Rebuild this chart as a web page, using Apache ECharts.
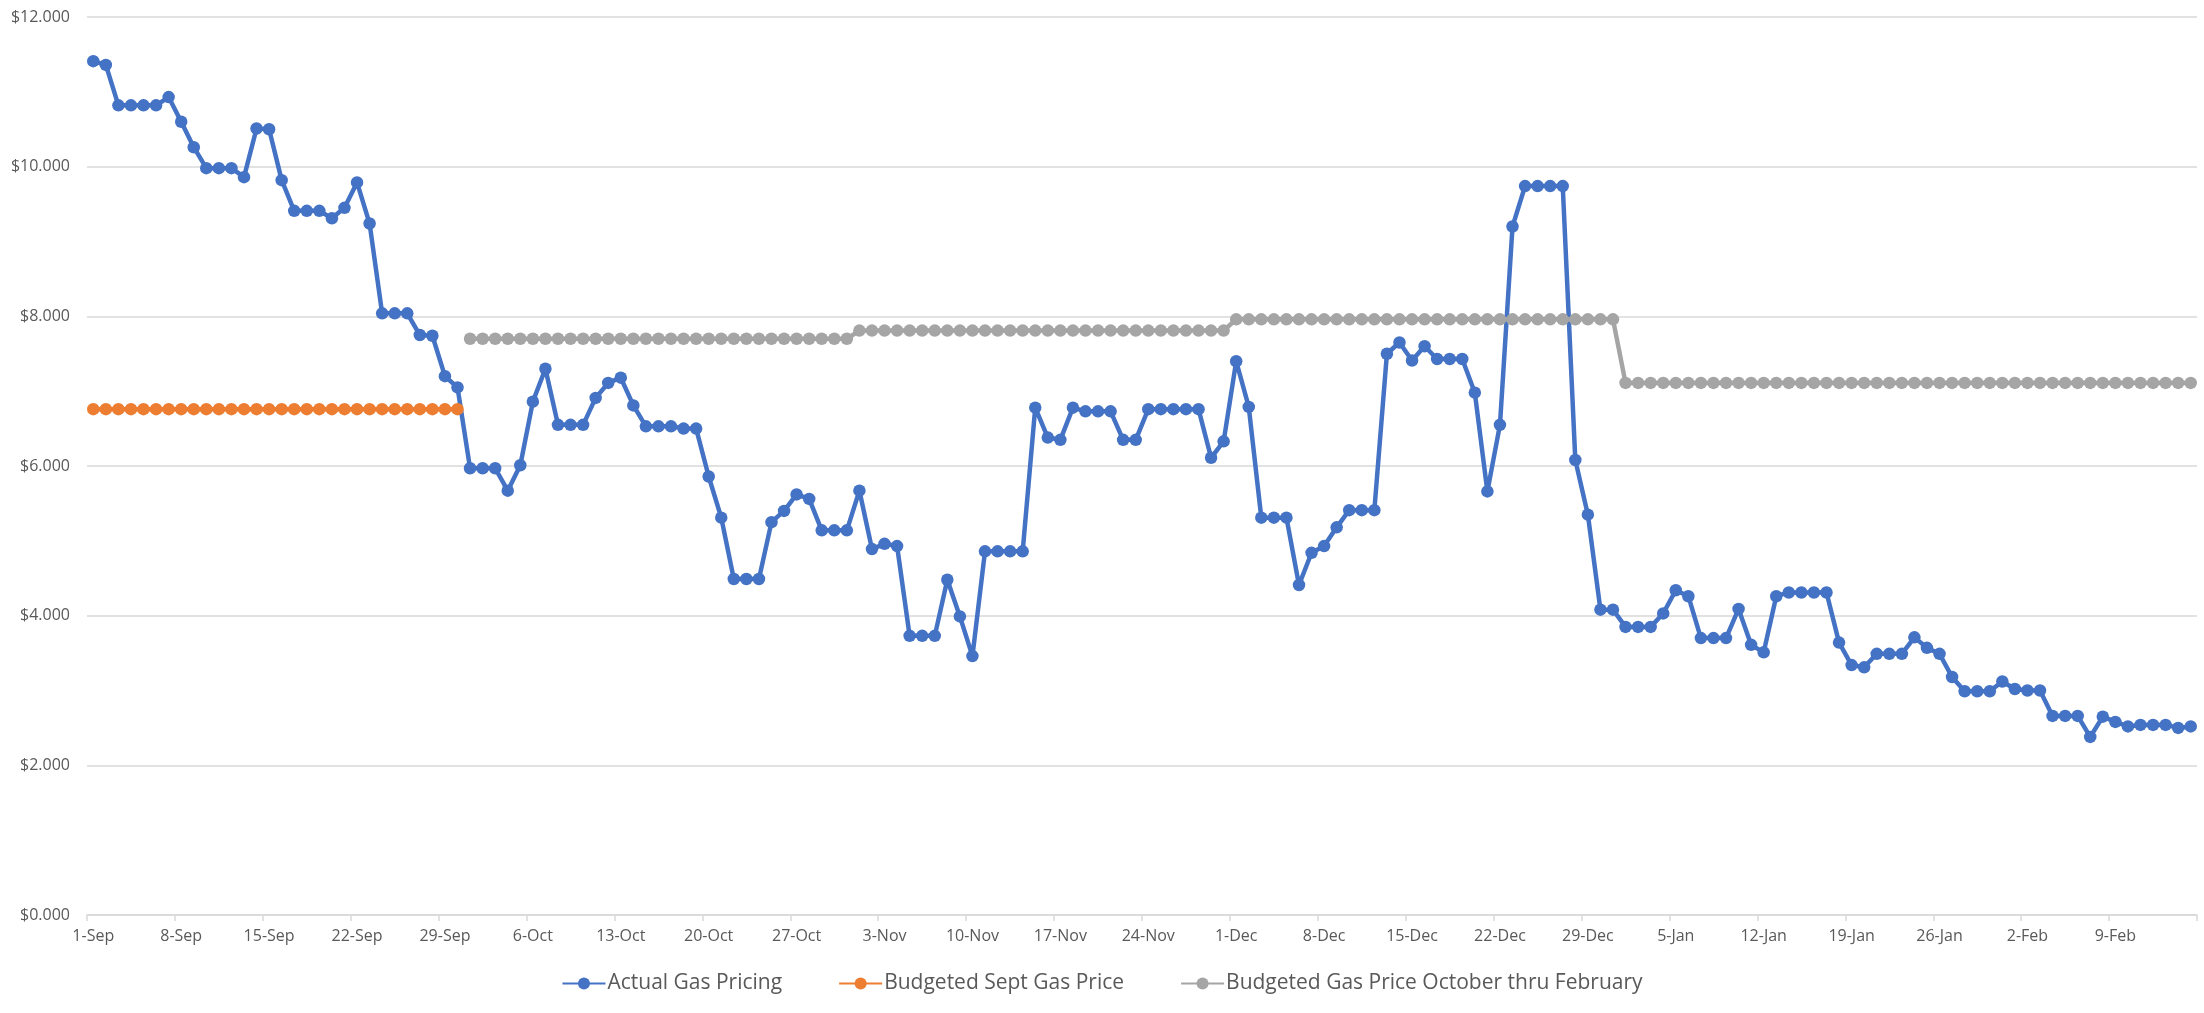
<!DOCTYPE html>
<html>
<head>
<meta charset="utf-8">
<script src="https://cdn.jsdelivr.net/npm/echarts@6/dist/echarts.min.js"></script>
<style>
html,body{margin:0;padding:0;background:#fff;}
#chart{width:2204px;height:1013px;}
</style>
</head>
<body>
<div id="chart"></div>
<script>
const categories = [
'1-Sep','2-Sep','3-Sep','4-Sep','5-Sep','6-Sep','7-Sep','8-Sep','9-Sep','10-Sep','11-Sep','12-Sep','13-Sep','14-Sep','15-Sep','16-Sep','17-Sep','18-Sep','19-Sep','20-Sep','21-Sep','22-Sep','23-Sep','24-Sep','25-Sep','26-Sep','27-Sep','28-Sep','29-Sep','30-Sep',
'1-Oct','2-Oct','3-Oct','4-Oct','5-Oct','6-Oct','7-Oct','8-Oct','9-Oct','10-Oct','11-Oct','12-Oct','13-Oct','14-Oct','15-Oct','16-Oct','17-Oct','18-Oct','19-Oct','20-Oct','21-Oct','22-Oct','23-Oct','24-Oct','25-Oct','26-Oct','27-Oct','28-Oct','29-Oct','30-Oct','31-Oct',
'1-Nov','2-Nov','3-Nov','4-Nov','5-Nov','6-Nov','7-Nov','8-Nov','9-Nov','10-Nov','11-Nov','12-Nov','13-Nov','14-Nov','15-Nov','16-Nov','17-Nov','18-Nov','19-Nov','20-Nov','21-Nov','22-Nov','23-Nov','24-Nov','25-Nov','26-Nov','27-Nov','28-Nov','29-Nov','30-Nov',
'1-Dec','2-Dec','3-Dec','4-Dec','5-Dec','6-Dec','7-Dec','8-Dec','9-Dec','10-Dec','11-Dec','12-Dec','13-Dec','14-Dec','15-Dec','16-Dec','17-Dec','18-Dec','19-Dec','20-Dec','21-Dec','22-Dec','23-Dec','24-Dec','25-Dec','26-Dec','27-Dec','28-Dec','29-Dec','30-Dec','31-Dec',
'1-Jan','2-Jan','3-Jan','4-Jan','5-Jan','6-Jan','7-Jan','8-Jan','9-Jan','10-Jan','11-Jan','12-Jan','13-Jan','14-Jan','15-Jan','16-Jan','17-Jan','18-Jan','19-Jan','20-Jan','21-Jan','22-Jan','23-Jan','24-Jan','25-Jan','26-Jan','27-Jan','28-Jan','29-Jan','30-Jan','31-Jan',
'1-Feb','2-Feb','3-Feb','4-Feb','5-Feb','6-Feb','7-Feb','8-Feb','9-Feb','10-Feb','11-Feb','12-Feb','13-Feb','14-Feb','15-Feb'
];

const actualGasPricing = [
11.41,11.36,10.82,10.82,10.82,10.82,10.93,10.60,10.26,9.98,9.98,9.98,9.86,10.51,10.50,9.82,9.41,9.41,9.41,9.31,9.45,9.79,9.24,8.04,8.04,8.04,7.75,7.74,7.20,7.05,
5.97,5.97,5.97,5.67,6.01,6.86,7.30,6.55,6.55,6.55,6.91,7.11,7.18,6.81,6.53,6.53,6.53,6.50,6.50,5.86,5.31,4.49,4.49,4.49,5.25,5.40,5.62,5.56,5.14,5.14,5.14,
5.67,4.89,4.96,4.93,3.73,3.73,3.73,4.48,3.99,3.46,4.86,4.86,4.86,4.86,6.78,6.38,6.35,6.78,6.73,6.73,6.73,6.35,6.35,6.76,6.76,6.76,6.76,6.76,6.11,6.33,
7.40,6.79,5.31,5.31,5.31,4.41,4.84,4.93,5.18,5.41,5.41,5.41,7.50,7.65,7.41,7.60,7.43,7.43,7.43,6.98,5.66,6.55,9.20,9.74,9.74,9.74,9.74,6.08,5.35,4.08,4.08,
3.85,3.85,3.85,4.03,4.34,4.26,3.70,3.70,3.70,4.09,3.61,3.51,4.26,4.31,4.31,4.31,4.31,3.64,3.34,3.31,3.49,3.49,3.49,3.71,3.57,3.49,3.18,2.99,2.99,2.99,3.12,
3.02,3.00,3.00,2.66,2.66,2.66,2.38,2.65,2.58,2.52,2.54,2.54,2.54,2.50,2.52
];

const budgetedSeptGasPrice = [
6.76,6.76,6.76,6.76,6.76,6.76,6.76,6.76,6.76,6.76,6.76,6.76,6.76,6.76,6.76,6.76,6.76,6.76,6.76,6.76,6.76,6.76,6.76,6.76,6.76,6.76,6.76,6.76,6.76,6.76
];

const budgetedOctFebGasPrice = [
null,null,null,null,null,null,null,null,null,null,null,null,null,null,null,null,null,null,null,null,null,null,null,null,null,null,null,null,null,null,
7.70,7.70,7.70,7.70,7.70,7.70,7.70,7.70,7.70,7.70,7.70,7.70,7.70,7.70,7.70,7.70,7.70,7.70,7.70,7.70,7.70,7.70,7.70,7.70,7.70,7.70,7.70,7.70,7.70,7.70,7.70,
7.81,7.81,7.81,7.81,7.81,7.81,7.81,7.81,7.81,7.81,7.81,7.81,7.81,7.81,7.81,7.81,7.81,7.81,7.81,7.81,7.81,7.81,7.81,7.81,7.81,7.81,7.81,7.81,7.81,7.81,
7.96,7.96,7.96,7.96,7.96,7.96,7.96,7.96,7.96,7.96,7.96,7.96,7.96,7.96,7.96,7.96,7.96,7.96,7.96,7.96,7.96,7.96,7.96,7.96,7.96,7.96,7.96,7.96,7.96,7.96,7.96,
7.11,7.11,7.11,7.11,7.11,7.11,7.11,7.11,7.11,7.11,7.11,7.11,7.11,7.11,7.11,7.11,7.11,7.11,7.11,7.11,7.11,7.11,7.11,7.11,7.11,7.11,7.11,7.11,7.11,7.11,7.11,
7.11,7.11,7.11,7.11,7.11,7.11,7.11,7.11,7.11,7.11,7.11,7.11,7.11,7.11,7.11
];

const seriesNames = ['Actual Gas Pricing','Budgeted Sept Gas Price','Budgeted Gas Price October thru February'];
const seriesColors = ['#4472C4','#ED7D31','#A5A5A5'];
const yTicks = [0,2,4,6,8,10,12];

const FONT = "'Open Sans', 'Liberation Sans', sans-serif";
const chart = echarts.init(document.getElementById('chart'), null, {renderer:'canvas'});

function mkSeries(i, data) {
  return {
    name: seriesNames[i],
    type: 'line',
    data: data,
    symbol: 'circle',
    symbolSize: 12.5,
    showAllSymbol: true,
    connectNulls: false,
    animation: false,
    lineStyle: {color: seriesColors[i], width: 4.5},
    itemStyle: {color: seriesColors[i]},
    emphasis: {disabled: true}
  };
}

chart.setOption({
  animation: false,
  backgroundColor: '#ffffff',
  color: seriesColors,
  grid: {left: 87, right: 7, top: 17, bottom: 98, containLabel: false},
  legend: {
    show: true,
    left: 'center',
    top: 968,
    itemGap: 56,
    itemWidth: 43,
    itemHeight: 15,
    textStyle: {color: '#595959', fontSize: 21, fontFamily: FONT, padding: [0,0,0,-3]},
    data: seriesNames
  },
  xAxis: {
    type: 'category',
    data: categories,
    boundaryGap: true,
    axisLine: {show: true, lineStyle: {color: '#D9D9D9', width: 1.5}},
    axisTick: {show: true, interval: 6, length: 6, alignWithLabel: false, lineStyle: {color: '#D9D9D9', width: 1.5}},
    axisLabel: {interval: 6, color: '#595959', fontSize: 16, fontFamily: FONT, margin: 13},
    splitLine: {show: false}
  },
  yAxis: {
    type: 'value',
    min: yTicks[0],
    max: yTicks[yTicks.length - 1],
    interval: 2,
    axisLine: {show: false},
    axisTick: {show: false},
    axisLabel: {
      color: '#595959', fontSize: 16, fontFamily: FONT, margin: 17,
      formatter: function (v) { return '$' + v.toFixed(3); }
    },
    splitLine: {show: true, lineStyle: {color: '#D9D9D9', width: 1.5}}
  },
  series: [
    mkSeries(0, actualGasPricing),
    mkSeries(1, budgetedSeptGasPrice),
    mkSeries(2, budgetedOctFebGasPrice)
  ]
});
</script>
</body>
</html>
